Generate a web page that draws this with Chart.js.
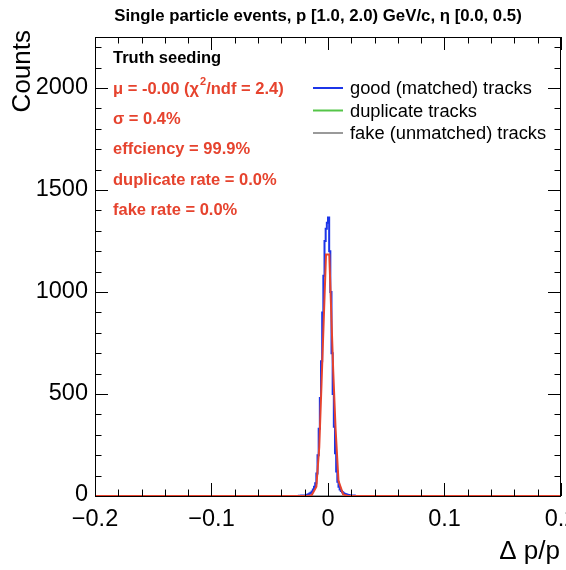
<!DOCTYPE html>
<html>
<head>
<meta charset="utf-8">
<script src="https://cdn.jsdelivr.net/npm/chart.js@4"></script>
<style>
  html, body { margin: 0; padding: 0; background: #fff; }
  canvas { display: block; }
</style>
</head>
<body>
<canvas id="mychart" width="566" height="570"></canvas>
<script>
// histogram: delta p / p, bins of 0.001 around the peak (zero elsewhere)
const binLow = -0.025;
const binWidth = 0.001;
const goodCounts = [
  0, 1, 0, 2, 1, 3, 2, 4, 6, 8,
  12, 16, 22, 32, 45, 62, 110, 200, 330, 480,
  660, 900, 1080, 1250, 1310, 1340, 1365, 1200, 1000, 700,
  500, 340, 210, 120, 70, 45, 32, 24, 18, 14,
  10, 8, 6, 5, 4, 3, 2, 1, 2, 0
];
const duplicateCounts = [0, 0];
const fakeCounts = [0, 0];
const emptyX = [-0.2, 0.2];

// gaussian fit as drawn (polyline vertices)
const fitX = [-0.2, -0.018, -0.014, -0.010, -0.0075, -0.0055, -0.0017, 0.0011, 0.0045, 0.0065, 0.0090, 0.013, 0.017, 0.2];
const fitY = [0, 0, 4, 45, 240, 560, 1184, 1184, 610, 330, 75, 8, 0, 0];

const xTicks = [-0.2, -0.1, 0, 0.1, 0.2];
const xTickLabels = ['\u22120.2', '\u22120.1', '0', '0.1', '0.2'];
const yTicks = [0, 500, 1000, 1500, 2000];
const yTickLabels = ['0', '500', '1000', '1500', '2000'];

const titleText = 'Single particle events, p [1.0, 2.0) GeV/c, \u03b7 [0.0, 0.5)';
const infoLines = ['\u03c3 = 0.4%', 'effciency = 99.9%', 'duplicate rate = 0.0%', 'fake rate = 0.0%'];
const legendItems = [
  { label: 'good (matched) tracks', color: '#1c35e8' },
  { label: 'duplicate tracks', color: '#55c548' },
  { label: 'fake (unmatched) tracks', color: '#9a9a9a' }
];

const FONT = '"Liberation Sans", Arial, Helvetica, sans-serif';
const RED = '#e6432e';

// build histogram points (step after = flat over each bin)
const goodPoints = [{ x: -0.2, y: 0 }];
goodCounts.forEach((c, i) => goodPoints.push({ x: binLow + i * binWidth, y: c }));
goodPoints.push({ x: binLow + goodCounts.length * binWidth, y: 0 });
goodPoints.push({ x: 0.2, y: 0 });

const fitPoints = fitX.map((x, i) => ({ x: x, y: fitY[i] }));
const dupPoints = emptyX.map((x, i) => ({ x: x, y: duplicateCounts[i] }));
const fakePoints = emptyX.map((x, i) => ({ x: x, y: fakeCounts[i] }));

const rootStyle = {
  id: 'rootStyle',
  afterDraw(chart) {
    const c = chart.ctx;
    const a = chart.chartArea;
    const xs = chart.scales.x;
    const ys = chart.scales.y;
    c.save();

    // frame
    c.strokeStyle = '#000';
    c.lineWidth = 1;
    c.strokeRect(a.left + 0.5, a.top + 0.5, a.right - a.left - 1, a.bottom - a.top);

    // ticks (inside, all four sides)
    c.beginPath();
    for (let v = -0.2; v <= 0.2001; v += 0.02) {
      const px = Math.round(xs.getPixelForValue(v)) + 0.5;
      const major = Math.abs(Math.round(v * 10) - v * 10) < 1e-6;
      const len = major ? 13 : 6.5;
      c.moveTo(px, a.bottom); c.lineTo(px, a.bottom - len);
      c.moveTo(px, a.top); c.lineTo(px, a.top + len);
    }
    for (let v = 0; v <= 2250; v += 100) {
      const py = Math.round(ys.getPixelForValue(v)) + 0.5;
      const len = (v % 500 === 0) ? 13 : 6.5;
      c.moveTo(a.left, py); c.lineTo(a.left + len, py);
      c.moveTo(a.right, py); c.lineTo(a.right - len, py);
    }
    c.stroke();

    // tick labels
    c.fillStyle = '#000';
    c.font = '23.5px ' + FONT;
    c.textAlign = 'center';
    c.textBaseline = 'middle';
    xTicks.forEach((v, i) => c.fillText(xTickLabels[i], xs.getPixelForValue(v), 520));
    c.textAlign = 'right';
    yTicks.forEach((v, i) => c.fillText(yTickLabels[i], 88, ys.getPixelForValue(v) - (v === 0 ? 1 : 0)));

    // axis titles
    c.font = '26px ' + FONT;
    c.textAlign = 'right';
    c.textBaseline = 'alphabetic';
    c.fillText('\u0394 p/p', 560, 559);
    c.save();
    c.translate(30, 30);
    c.rotate(-Math.PI / 2);
    c.fillText('Counts', 0, 0);
    c.restore();

    // title
    c.font = 'bold 16.8px ' + FONT;
    c.textAlign = 'center';
    c.fillText(titleText, 318, 21);

    // fit info
    c.font = 'bold 16.5px ' + FONT;
    c.textAlign = 'left';
    c.fillText('Truth seeding', 113, 63);
    c.fillStyle = RED;
    let x = 113;
    const muA = '\u03bc = -0.00 (\u03c7';
    c.fillText(muA, x, 94);
    x += c.measureText(muA).width;
    c.font = 'bold 11px ' + FONT;
    c.fillText('2', x + 1, 85);
    x += c.measureText('2').width + 1;
    c.font = 'bold 16.5px ' + FONT;
    c.fillText('/ndf = 2.4)', x, 94);
    infoLines.forEach((t, i) => c.fillText(t, 113, 124 + i * 30.3));

    // legend
    c.font = '18.3px ' + FONT;
    legendItems.forEach((it, i) => {
      const y = 88 + i * 22.5;
      c.strokeStyle = it.color;
      c.lineWidth = 2;
      c.beginPath();
      c.moveTo(313, y); c.lineTo(343, y);
      c.stroke();
      c.fillStyle = '#000';
      c.textBaseline = 'middle';
      c.fillText(it.label, 350, y + 1);
    });

    c.restore();
  }
};

new Chart(document.getElementById('mychart'), {
  type: 'line',
  data: {
    datasets: [
      { label: 'fit', data: fitPoints, borderColor: RED, borderWidth: 2, order: 0 },
      { label: 'fake (unmatched) tracks', data: fakePoints, borderColor: '#9a9a9a', borderWidth: 2, order: 1 },
      { label: 'duplicate tracks', data: dupPoints, borderColor: '#55c548', borderWidth: 2, order: 2 },
      { label: 'good (matched) tracks', data: goodPoints, borderColor: '#1c35e8', borderWidth: 2, stepped: 'after', order: 3 }
    ]
  },
  options: {
    responsive: false,
    animation: false,
    layout: { padding: { left: 95, right: 5, top: 37, bottom: 74 } },
    elements: { point: { radius: 0 }, line: { tension: 0, fill: false } },
    scales: {
      x: { type: 'linear', min: -0.2, max: 0.2, display: false },
      y: { type: 'linear', min: 0, max: 2250, display: false }
    },
    plugins: { legend: { display: false }, tooltip: { enabled: false } }
  },
  plugins: [rootStyle]
});
</script>
</body>
</html>
